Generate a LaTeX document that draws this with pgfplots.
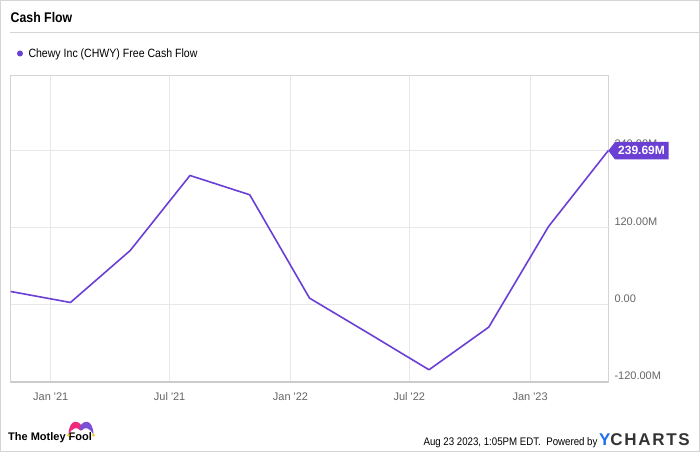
\documentclass[border=0pt]{standalone}
\usepackage{pgfplots}
\pgfplotsset{compat=1.18}
\usepackage{fontspec}
\setmainfont{Liberation Sans}
\newfontfamily\narrow{Liberation Sans}[FakeStretch=0.88]
\definecolor{cfpurple}{HTML}{6B3FD4}
\definecolor{gridgray}{HTML}{E8E8E8}
\definecolor{framegray}{HTML}{D4D4D4}
\definecolor{ticktext}{HTML}{666666}
\definecolor{ychblue}{HTML}{1E6FF0}
\definecolor{ychdark}{HTML}{333333}
\definecolor{foolpink}{HTML}{EE2A7B}
\definecolor{foolpurple}{HTML}{7B4FD6}
\definecolor{foolyellow}{HTML}{F5C518}
\pgfplotstableread{
x y
-61 20.7
30 3.6
121 84.4
212 201
303 171
394 10.4
485 -45
576 -101
667 -34.7
758 121.7
849 239.69
}\fcfdata
\begin{document}
\begin{tikzpicture}[x=1pt,y=1pt]
\path[use as bounding box] (0,0) rectangle (700,452);
\fill[white] (0,0) rectangle (700,452);
\draw[framegray, line width=1pt] (0.5,0.5) rectangle (699.5,451.5);
% title
\node[anchor=base west, inner sep=0pt, font=\narrow\bfseries\fontsize{14}{16}\selectfont] at (10.5,429.3) {Cash Flow};
\draw[framegray, line width=0.8pt] (10,419.7) -- (700,419.7);
% legend
\fill[cfpurple] (20,398.5) circle (3pt);
\node[anchor=base west, inner sep=0pt, font=\narrow\fontsize{12}{14}\selectfont] at (28.3,394.3) {Chewy Inc (CHWY) Free Cash Flow};
\begin{axis}[
  at={(10.7pt,70pt)}, anchor=south west,
  scale only axis, width=597.6pt, height=307pt,
  xmin=-61, xmax=849, ymin=-120, ymax=357.2,
  axis line style={framegray, line width=0.8pt},
  major tick length=0pt,
  xtick={0,181,365,546,730},
  xticklabels={Jan \textquotesingle21,Jul \textquotesingle21,Jan \textquotesingle22,Jul \textquotesingle22,Jan \textquotesingle23},
  ytick={-120,0,120,240},
  yticklabels={-120.00M,0.00,120.00M,240.00M},
  yticklabel pos=right,
  xticklabel style={font=\fontsize{11}{13}\selectfont, text=ticktext, anchor=base, yshift=-18pt, inner sep=0pt},
  yticklabel style={font=\fontsize{11}{13}\selectfont, text=ticktext, anchor=base west, xshift=6pt, yshift=2.5pt, inner sep=0pt},
  grid=major,
  major grid style={gridgray, line width=0.9pt},
  clip=false,
]
\addplot[cfpurple, line width=1.6pt, line join=round] table[x=x,y=y] {\fcfdata};
\end{axis}
% bottom axis line slightly darker
\draw[framegray!120, line width=1.2pt] (10.7,70) -- (608.3,70);
% value label
\fill[cfpurple] (608.3,301.3) -- (615,310) -- (668.5,310) -- (668.5,292.6) -- (615,292.6) -- cycle;
\node[anchor=base, inner sep=0pt, text=white, font=\bfseries\fontsize{12}{14}\selectfont] at (641.5,297.2) {239.69M};
% Motley Fool logo
\node[anchor=base west, inner sep=0pt, font=\bfseries\fontsize{11}{13}\selectfont] at (8,11.3) {The Motley Fool};
\fill[foolpink] (68.5,17.5) .. controls (69,33) and (79,33.5) .. (82.5,24) -- (80.5,21.5) .. controls (77,25.5) and (72.5,24.5) .. cycle;
\fill[foolpurple] (79.5,24) .. controls (83,33.5) and (93,33) .. (93.5,17.5) .. controls (89.5,24.5) and (85,25.5) .. (81.5,21.5) -- cycle;
\fill[foolyellow] (68.5,16.8) circle (1.5pt);
\fill[foolyellow] (93.5,16.8) circle (1.5pt);
% footer right
\node[anchor=base east, inner sep=0pt] at (690,7) {{\narrow\fontsize{11}{13}\selectfont Aug 23 2023, 1:05PM EDT.\enspace Powered by}\,{\bfseries\fontsize{17}{19}\selectfont\addfontfeature{LetterSpace=10}\textcolor{ychblue}{Y}\textcolor{ychdark}{CHARTS}}};
\end{tikzpicture}
\end{document}
